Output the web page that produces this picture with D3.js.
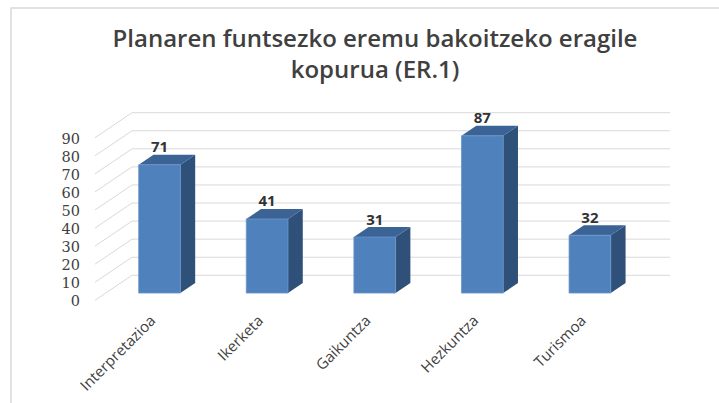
<!DOCTYPE html>
<html>
<head>
<meta charset="utf-8">
<script src="https://cdn.jsdelivr.net/npm/d3@7"></script>
<style>
  body { margin: 0; background: #fff; }
  svg { display: block; }
</style>
</head>
<body>
<svg></svg>
<script>
const categories = ['Interpretazioa', 'Ikerketa', 'Gaikuntza', 'Hezkuntza', 'Turismoa']
const values = [71, 41, 31, 87, 32]
const yTicks = [0, 10, 20, 30, 40, 50, 60, 70, 80, 90]
const titleLines = ['Planaren funtsezko eremu bakoitzeko eragile', 'kopurua (ER.1)']

const w = 719, h = 403
// depth of the 3d box: front plane is shifted left/down from back wall
const depthX = -37, depthY = 25
const tFront = 0.71, tBack = 0.31

const svg = d3.select('svg').attr('width', w).attr('height', h)

// outer chart border
svg.append('rect')
  .attr('x', 11).attr('y', 8)
  .attr('width', w + 20).attr('height', h + 20)
  .attr('fill', 'none')
  .attr('stroke', '#d9d9d9')
  .attr('stroke-width', 1.5)

// scales on the back wall
const x = d3.scaleBand().domain(categories).range([132, 670])
const y = d3.scaleLinear().domain([0, 90]).range([275.3, 112.7])

const proj = (px, v, t) => [px + depthX * t, y(v) + depthY * t]

// gridlines: back wall and left side wall
const grid = svg.append('g').attr('stroke', '#d9d9d9').attr('stroke-width', 1)
grid.selectAll('.back').data(yTicks).enter().append('line')
  .attr('x1', x.range()[0]).attr('x2', x.range()[1])
  .attr('y1', d => y(d)).attr('y2', d => y(d))
grid.selectAll('.side').data(yTicks).enter().append('line')
  .attr('x1', d => proj(x.range()[0], d, 0)[0])
  .attr('y1', d => proj(x.range()[0], d, 0)[1])
  .attr('x2', d => proj(x.range()[0], d, 1)[0])
  .attr('y2', d => proj(x.range()[0], d, 1)[1])

// bars
const barW = 41.7
const data = categories.map((c, i) => ({ cat: c, value: values[i] }))
const bars = svg.append('g').selectAll('g').data(data).enter().append('g')

const edges = d => {
  let cx = x(d.cat) + x.bandwidth() / 2
  return [cx - barW / 2, cx + barW / 2]
}
const pts = arr => arr.map(p => p.join(',')).join(' ')

bars.append('polygon')
  .attr('fill', '#2f5079')
  .attr('points', d => {
    let [x0, x1] = edges(d)
    return pts([proj(x1, 0, tFront), proj(x1, d.value, tFront), proj(x1, d.value, tBack), proj(x1, 0, tBack)])
  })

bars.append('polygon')
  .attr('fill', '#3b6396')
  .attr('points', d => {
    let [x0, x1] = edges(d)
    return pts([proj(x0, d.value, tFront), proj(x1, d.value, tFront), proj(x1, d.value, tBack), proj(x0, d.value, tBack)])
  })

bars.append('polygon')
  .attr('fill', '#4f81bd')
  .attr('stroke', '#6a95c9')
  .attr('stroke-width', 0.8)
  .attr('points', d => {
    let [x0, x1] = edges(d)
    return pts([proj(x0, 0, tFront), proj(x1, 0, tFront), proj(x1, d.value, tFront), proj(x0, d.value, tFront)])
  })

// data labels
bars.append('text')
  .attr('x', d => proj(x(d.cat) + x.bandwidth() / 2, d.value, tFront)[0])
  .attr('y', d => proj(0, d.value, tFront)[1] - 12.5)
  .attr('text-anchor', 'middle')
  .attr('font-family', 'Open Sans')
  .attr('font-weight', 700)
  .attr('font-size', 15)
  .attr('fill', '#333')
  .text(d => d.value)

// y axis on the front edge of the side wall
const yFront = y.copy().range(y.range().map(r => r + depthY))
const yAx = svg.append('g')
  .attr('transform', 'translate(80,1)')
  .call(d3.axisLeft(yFront).tickValues(yTicks).tickSize(0).tickPadding(0))
yAx.select('.domain').remove()
yAx.selectAll('text')
  .attr('font-family', 'DejaVu Serif')
  .attr('font-size', 14.5)
  .attr('fill', '#404040')

// x axis labels along the front plane
const xFront = x.copy().range(x.range().map(r => r + depthX))
const xAx = svg.append('g')
  .attr('transform', 'translate(4,318)')
  .call(d3.axisBottom(xFront).tickSize(0).tickPadding(0))
xAx.select('.domain').remove()
xAx.selectAll('text')
  .attr('y', 0)
  .attr('dy', '0.35em')
  .attr('text-anchor', 'end')
  .attr('transform', 'rotate(-45)')
  .attr('font-family', 'Open Sans')
  .attr('font-size', 15)
  .attr('fill', '#404040')

// title
svg.append('g').selectAll('text').data(titleLines).enter().append('text')
  .attr('x', 375)
  .attr('y', (d, i) => 47 + i * 31)
  .attr('text-anchor', 'middle')
  .attr('font-family', 'Open Sans')
  .attr('font-weight', 600)
  .attr('font-size', 24)
  .attr('fill', '#404040')
  .text(d => d)
</script>
</body>
</html>
